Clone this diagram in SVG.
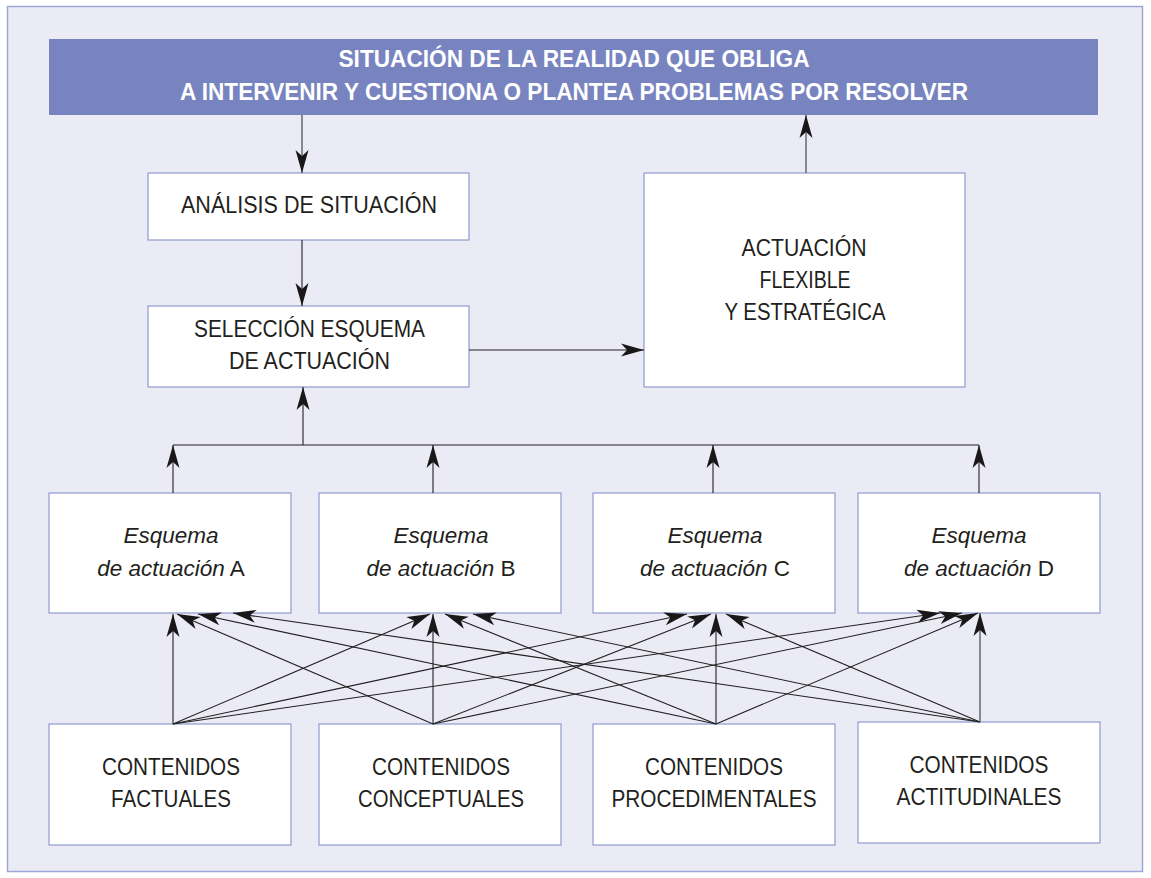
<svg xmlns="http://www.w3.org/2000/svg" width="1151" height="878" viewBox="0 0 1151 878">
<style>
.frame{fill:#ebebf6;stroke:#9ea6d8;stroke-width:1.5}
.box{fill:#fff;stroke:#8f99cf;stroke-width:1.2}
.t{font-family:"Liberation Sans",Arial,sans-serif;font-size:23px;fill:#231f20;text-anchor:middle}
.ti{font-family:"Liberation Sans",Arial,sans-serif;font-size:22.5px;fill:#231f20;text-anchor:middle}
.it{font-style:italic}
.bt{font-family:"Liberation Sans",Arial,sans-serif;font-size:24px;font-weight:bold;fill:#fff;text-anchor:middle}
.c{stroke:#231f20;stroke-width:1.1;fill:none;marker-end:url(#ah)}
.g{stroke:#5d5e60;stroke-width:1.4}
.bus{stroke:#231f20;stroke-width:1.2;fill:none}
</style>
<defs>
<marker id="ah" markerUnits="userSpaceOnUse" viewBox="-24 -7 25 14" markerWidth="25" markerHeight="14" refX="0" refY="0" orient="auto">
<path d="M0,0 L-23,-6.5 L-17,0 L-23,6.5 Z" fill="#1a1718"/>
</marker>
</defs>
<rect class="frame" x="7.5" y="6.5" width="1135" height="865"/>

<g id="banner">
<rect x="49" y="39" width="1049" height="76" fill="#7884c0"/>
<text class="bt" x="574" y="67" textLength="471" lengthAdjust="spacingAndGlyphs">SITUACIÓN DE LA REALIDAD QUE OBLIGA</text>
<text class="bt" x="574" y="100" textLength="788" lengthAdjust="spacingAndGlyphs">A INTERVENIR Y CUESTIONA O PLANTEA PROBLEMAS POR RESOLVER</text>
</g>

<g id="analisis">
<rect class="box" x="148" y="173" width="321" height="67"/>
<text class="t" x="309" y="213" textLength="256" lengthAdjust="spacingAndGlyphs">ANÁLISIS DE SITUACIÓN</text>
</g>

<g id="seleccion">
<rect class="box" x="148" y="306" width="321" height="81"/>
<text class="t" x="309.5" y="337" textLength="231" lengthAdjust="spacingAndGlyphs">SELECCIÓN ESQUEMA</text>
<text class="t" x="309.5" y="369" textLength="161" lengthAdjust="spacingAndGlyphs">DE ACTUACIÓN</text>
</g>

<g id="actuacion">
<rect class="box" x="644" y="173" width="321" height="214"/>
<text class="t" x="804" y="256" textLength="125" lengthAdjust="spacingAndGlyphs">ACTUACIÓN</text>
<text class="t" x="805" y="288" textLength="91" lengthAdjust="spacingAndGlyphs">FLEXIBLE</text>
<text class="t" x="805" y="320" textLength="161" lengthAdjust="spacingAndGlyphs">Y ESTRATÉGICA</text>
</g>

<g id="esquemaA">
<rect class="box" x="49" y="493" width="242" height="120"/>
<text class="ti it" x="171" y="543">Esquema</text>
<text class="ti" x="171" y="576"><tspan class="it">de actuación</tspan> A</text>
</g>
<g id="esquemaB">
<rect class="box" x="319" y="493" width="242" height="120"/>
<text class="ti it" x="441" y="543">Esquema</text>
<text class="ti" x="441" y="576"><tspan class="it">de actuación</tspan> B</text>
</g>
<g id="esquemaC">
<rect class="box" x="593" y="493" width="242" height="120"/>
<text class="ti it" x="715" y="543">Esquema</text>
<text class="ti" x="715" y="576"><tspan class="it">de actuación</tspan> C</text>
</g>
<g id="esquemaD">
<rect class="box" x="858" y="493" width="242" height="120"/>
<text class="ti it" x="979" y="543">Esquema</text>
<text class="ti" x="979" y="576"><tspan class="it">de actuación</tspan> D</text>
</g>

<g id="factuales">
<rect class="box" x="49" y="724" width="242" height="121"/>
<text class="t" x="171" y="775" textLength="138" lengthAdjust="spacingAndGlyphs">CONTENIDOS</text>
<text class="t" x="171" y="807" textLength="120" lengthAdjust="spacingAndGlyphs">FACTUALES</text>
</g>
<g id="conceptuales">
<rect class="box" x="319" y="724" width="242" height="121"/>
<text class="t" x="441" y="775" textLength="138" lengthAdjust="spacingAndGlyphs">CONTENIDOS</text>
<text class="t" x="441" y="807" textLength="166" lengthAdjust="spacingAndGlyphs">CONCEPTUALES</text>
</g>
<g id="procedimentales">
<rect class="box" x="593" y="724" width="242" height="121"/>
<text class="t" x="714" y="775" textLength="138" lengthAdjust="spacingAndGlyphs">CONTENIDOS</text>
<text class="t" x="714" y="807" textLength="205" lengthAdjust="spacingAndGlyphs">PROCEDIMENTALES</text>
</g>
<g id="actitudinales">
<rect class="box" x="858" y="722" width="242" height="121"/>
<text class="t" x="979" y="773" textLength="139" lengthAdjust="spacingAndGlyphs">CONTENIDOS</text>
<text class="t" x="979" y="805" textLength="165" lengthAdjust="spacingAndGlyphs">ACTITUDINALES</text>
</g>

<g id="connectors">
<line class="c g" x1="302" y1="115" x2="302" y2="173"/>
<line class="c" x1="302" y1="240" x2="302" y2="306"/>
<line class="c" x1="469" y1="350" x2="644" y2="350"/>
<line class="c g" x1="806" y1="173" x2="806" y2="115"/>
<line class="bus" x1="173" y1="445" x2="979" y2="445"/>
<line class="c" x1="303" y1="445" x2="303" y2="387"/>
<line class="c" x1="173" y1="493" x2="173" y2="445"/>
<line class="c" x1="433" y1="493" x2="433" y2="445"/>
<line class="c" x1="713" y1="493" x2="713" y2="445"/>
<line class="c" x1="979" y1="493" x2="979" y2="445"/>

<line class="c" x1="173" y1="724" x2="173" y2="614"/>
<line class="c" x1="173" y1="724" x2="430" y2="614"/>
<line class="c" x1="173" y1="724" x2="687" y2="614"/>
<line class="c" x1="173" y1="724" x2="940" y2="613"/>

<line class="c" x1="433" y1="724" x2="177" y2="614"/>
<line class="c" x1="433" y1="724" x2="433" y2="614"/>
<line class="c" x1="433" y1="724" x2="711" y2="614"/>
<line class="c" x1="433" y1="724" x2="962" y2="613"/>

<line class="c" x1="716" y1="724" x2="198" y2="614"/>
<line class="c" x1="716" y1="724" x2="445" y2="614"/>
<line class="c" x1="716" y1="724" x2="716" y2="614"/>
<line class="c" x1="716" y1="724" x2="978" y2="613"/>

<line class="c" x1="980" y1="722" x2="233" y2="613"/>
<line class="c" x1="980" y1="722" x2="473" y2="614"/>
<line class="c" x1="980" y1="722" x2="726" y2="614"/>
<line class="c g" x1="980" y1="722" x2="980" y2="613"/>
</g>
</svg>
